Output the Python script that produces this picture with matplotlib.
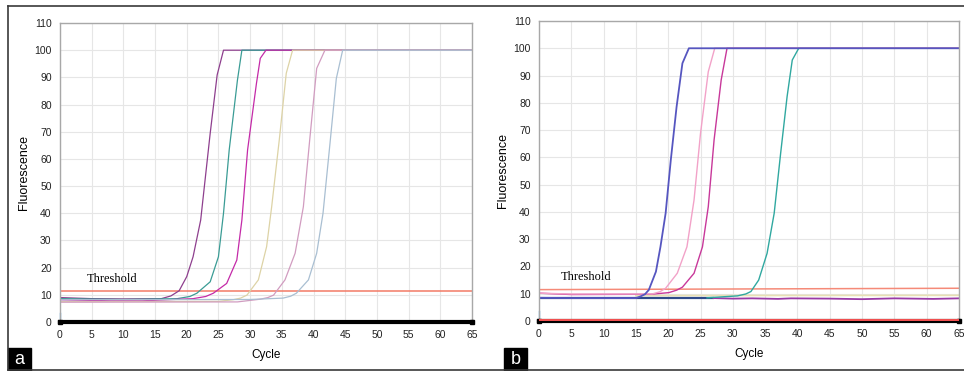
import matplotlib
matplotlib.use("Agg")
import matplotlib.pyplot as plt
from matplotlib.lines import Line2D
from matplotlib.patches import Rectangle

# ---- panel a : amplification curves (cycle, fluorescence) ----
a_purple_x = [0, 5, 10, 16.0, 17.5, 18.8, 20.0, 21.0, 22.2, 23.7, 24.8, 25.8, 65]
a_purple_y = [9.0, 8.6, 8.5, 8.6, 9.6, 11.5, 16.7, 24.0, 37.5, 69.4, 90.9, 100, 100]
a_teal_x = [0, 10, 18.5, 20.5, 21.6, 23.7, 25.0, 25.8, 26.7, 28.0, 28.7, 65]
a_teal_y = [8.6, 8.3, 8.6, 9.4, 10.6, 14.8, 24.0, 40.0, 63.3, 89.0, 100, 100]
a_magenta_x = [0, 8, 13, 21.0, 23.0, 24.2, 26.3, 27.9, 28.7, 29.6, 31.0, 31.6, 32.5, 65]
a_magenta_y = [8.2, 7.8, 7.8, 8.6, 9.4, 10.6, 14.2, 22.8, 37.5, 63.3, 87.8, 97, 100, 100]
a_khaki_x = [0, 25, 27.3, 28.5, 29.5, 31.3, 32.6, 33.4, 34.6, 35.7, 36.7, 65]
a_khaki_y = [7.5, 7.6, 8.2, 8.8, 9.9, 15.5, 27.7, 42.4, 67.0, 91.5, 100, 100]
a_mauve_x = [0, 28, 31.6, 32.8, 33.7, 35.5, 37.1, 38.4, 39.4, 40.5, 41.8, 65]
a_mauve_y = [7.3, 7.4, 8.4, 9.0, 9.9, 15.5, 25.3, 42.4, 67.0, 93.3, 100, 100]
a_grey_x = [0, 30, 35.2, 36.4, 37.3, 39.2, 40.5, 41.5, 42.6, 43.6, 44.6, 65]
a_grey_y = [8.2, 8.3, 8.8, 9.5, 10.6, 15.5, 25.3, 40.0, 65.7, 89.6, 100, 100]
a_threshold = [11.5, 11.5]

# ---- panel b ----
b_blue_x = [0, 5, 15, 15.7, 16.4, 17.0, 18.1, 18.8, 19.6, 20.4, 21.3, 22.2, 23.2, 65]
b_blue_y = [8.5, 8.4, 8.4, 9.0, 9.8, 11.4, 18.1, 27.2, 39.5, 59.0, 78.6, 94.5, 100, 100]
b_pink_x = [0, 5, 17.5, 18.7, 19.6, 21.4, 22.9, 24.0, 25.0, 26.2, 27.2, 65]
b_pink_y = [10.2, 9.9, 9.9, 10.7, 12.0, 17.5, 27.2, 44.4, 68.8, 91.4, 100, 100]
b_magenta_x = [0, 5, 17.3, 20.1, 21.3, 22.2, 24.0, 25.3, 26.2, 27.1, 28.2, 29.1, 65]
b_magenta_y = [10.2, 9.7, 9.8, 10.4, 11.3, 12.4, 17.5, 27.2, 41.9, 66.4, 88.4, 100, 100]
b_teal_x = [26, 30.7, 32.0, 32.8, 34.0, 35.3, 36.4, 37.4, 38.4, 39.2, 40.2, 65]
b_teal_y = [8.5, 9.2, 9.9, 10.8, 15.0, 24.8, 39.5, 61.5, 82.3, 95.7, 100, 100]
b_navy_x = [0, 27]
b_navy_y = [8.3, 8.3]
b_purple_x = [27, 30, 33, 37, 39, 45, 50, 55, 61, 65]
b_purple_y = [8.4, 8.2, 8.3, 8.1, 8.3, 8.2, 8.0, 8.3, 8.1, 8.3]
b_cream_x = [15, 65]
b_cream_y = [9.3, 9.4]
b_red_y = [0.4, 0.4]
b_threshold = [11.5, 12.0]

ends = [0, 65]
zero = [0, 0]

plt.rcParams['font.family'] = ['Liberation Sans', 'DejaVu Sans']

fig = plt.figure(figsize=(9.64, 3.71), dpi=100)
axa = fig.add_axes([0.0622, 0.132, 0.4274, 0.806])
axb = fig.add_axes([0.5591, 0.1348, 0.4357, 0.8086])


def style(ax):
    ax.set_xlim(0, 65)
    ax.set_ylim(0, 110)
    ax.set_xticks(range(0, 66, 5))
    ax.set_yticks(range(0, 111, 10))
    ax.grid(True, color='#e6e6e6', lw=0.8)
    ax.set_axisbelow(True)
    for s in ['left', 'top', 'right']:
        ax.spines[s].set_color('#a8a8a8')
        ax.spines[s].set_linewidth(1.0)
    ax.spines['bottom'].set_visible(False)
    ax.tick_params(length=0, labelsize=7.5, pad=6, colors='#222222')
    ax.set_xlabel('Cycle', fontsize=8.5, labelpad=6)
    ax.set_ylabel('Fluorescence', fontsize=9, labelpad=3)
    ax.plot(ends, zero, color='black', lw=3, marker='s', ms=3, clip_on=False, zorder=5)
    ax.plot([0, 0], [1.5, 3.5], color='#5aa8e0', lw=1, clip_on=False)


style(axa)
axa.plot(ends, a_threshold, color='#f37a66', lw=1.1)
axa.plot(a_purple_x, a_purple_y, color='#8e3f8e', lw=0.9)
axa.plot(a_teal_x, a_teal_y, color='#3a9c95', lw=0.9)
axa.plot(a_magenta_x, a_magenta_y, color='#c42aa8', lw=0.9)
axa.plot(a_khaki_x, a_khaki_y, color='#ddd3a6', lw=0.9)
axa.plot(a_mauve_x, a_mauve_y, color='#d19cc0', lw=0.9)
axa.plot(a_grey_x, a_grey_y, color='#a9bfd2', lw=0.9)
axa.text(4.3, 16, 'Threshold', family='Liberation Serif', fontsize=9, va='center')

style(axb)
axb.plot(ends, b_red_y, color='#f05050', lw=1.5, zorder=6)
axb.plot(ends, b_threshold, color='#f58a78', lw=1.1)
axb.plot(b_cream_x, b_cream_y, color='#e8e0b4', lw=1.2)
axb.plot(b_navy_x, b_navy_y, color='#2f4a8a', lw=1.6)
axb.plot(b_purple_x, b_purple_y, color='#9a3aa6', lw=1.3)
axb.plot(b_teal_x, b_teal_y, color='#30a8a0', lw=1.0)
axb.plot(b_magenta_x, b_magenta_y, color='#c8389a', lw=1.0)
axb.plot(b_pink_x, b_pink_y, color='#f2a2c8', lw=1.0)
axb.plot(b_blue_x, b_blue_y, color='#5656c0', lw=1.3)
axb.text(3.3, 16, 'Threshold', family='Liberation Serif', fontsize=9, va='center')

# outer frame and panel letters
W, H = 964, 371
frame = '#3a3a3a'
fig.add_artist(Line2D([8 / W, 1], [1 - 6 / H, 1 - 6 / H], color=frame, lw=1.2))
fig.add_artist(Line2D([8 / W, 8 / W], [1 / H, 1 - 6 / H], color=frame, lw=1.2))
fig.add_artist(Line2D([8 / W, 1], [1 / H, 1 / H], color=frame, lw=1.2))
for x0, letter in [(8, 'a'), (504, 'b')]:
    fig.add_artist(Rectangle((x0 / W, 0), 23 / W, 23 / H, color='black',
                             transform=fig.transFigure))
    fig.text((x0 + 11.5) / W, 11 / H, letter, color='white', fontsize=13,
             ha='center', va='center')

fig.savefig('out.png', dpi=100)
